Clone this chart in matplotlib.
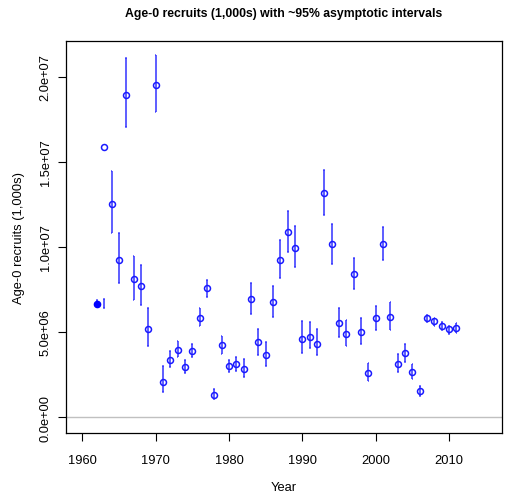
import matplotlib
matplotlib.use("Agg")
import matplotlib.pyplot as plt
import numpy as np

plt.rcParams['font.family'] = ['Liberation Sans', 'DejaVu Sans']

years = list(range(1962, 2012))
recruits = [6.62, 15.87, 12.5, 9.22, 18.95, 8.11, 7.7, 5.16, 19.52, 2.07,
            3.36, 3.95, 2.93, 3.87, 5.84, 7.56, 1.31, 4.24, 2.99, 3.09,
            2.85, 6.92, 4.38, 3.65, 6.74, 9.22, 10.88, 9.96, 4.61, 4.73,
            4.32, 13.15, 10.14, 5.53, 4.88, 8.4, 5.02, 2.58, 5.8, 10.14,
            5.9, 3.12, 3.77, 2.62, 1.51, 5.8, 5.63, 5.35, 5.16, 5.26]
upper = [6.85, 6.96, 14.46, 10.84, 21.08, 9.48, 8.95, 6.43, 21.26, 2.97,
         3.87, 4.44, 3.38, 4.3, 6.39, 8.03, 1.64, 4.75, 3.36, 3.5,
         3.42, 7.85, 5.2, 4.38, 7.72, 10.38, 12.13, 11.21, 5.67, 5.59,
         5.18, 14.5, 11.35, 6.43, 5.73, 9.32, 5.82, 3.15, 6.55, 11.18,
         6.74, 3.73, 4.32, 3.09, 1.8, 6.0, 5.84, 5.61, 5.37, 5.51]
lower = [6.45, 6.39, 10.84, 7.85, 17.06, 6.9, 6.61, 4.18, 17.94, 1.45,
         2.91, 3.5, 2.58, 3.5, 5.35, 7.05, 1.07, 3.73, 2.62, 2.72,
         2.38, 6.06, 3.67, 2.97, 5.86, 8.19, 9.71, 8.83, 3.75, 4.04,
         3.62, 11.86, 9.01, 4.71, 4.18, 7.54, 4.32, 2.09, 5.14, 9.2,
         5.14, 2.64, 3.24, 2.25, 1.25, 5.57, 5.37, 5.1, 4.9, 4.96]
virgin_year = 1962  # filled point

scale = 1e6
fig = plt.figure(figsize=(5.07, 5.02), dpi=100)
ax = fig.add_axes([66/507, 1 - 434/502, (502-66)/507, (434-42)/502])

yrs = np.array(years, dtype=float)
rec = np.array(recruits) * scale
up = np.array(upper) * scale
lo = np.array(lower) * scale

bar_col = (0.2, 0.2, 1.0, 0.85)
ax.axhline(0, color='#c0c0c0', lw=1, zorder=1)
ax.vlines(yrs, lo, up, colors=bar_col, lw=1.3, zorder=2)
cap = 0.12
ax.hlines(up, yrs - cap, yrs + cap, colors=bar_col, lw=1.1, zorder=2)
ax.hlines(lo, yrs - cap, yrs + cap, colors=bar_col, lw=1.1, zorder=2)

open_mask = yrs != virgin_year
ax.plot(yrs[open_mask], rec[open_mask], 'o', mfc='none', mec='#1a1aff',
        mew=1.1, ms=4.3, zorder=3)
ax.plot(yrs[~open_mask], rec[~open_mask], 'o', mfc='#0000ff', mec='#0000ff',
        ms=4.5, zorder=3)

ax.set_xlim(1957.8, 2017.2)
ax.set_ylim(-0.94e6, 22.1e6)

ax.set_xticks([1960, 1970, 1980, 1990, 2000, 2010])
yt = [0, 5e6, 1e7, 1.5e7, 2e7]
ax.set_yticks(yt)
ax.set_yticklabels(['0.0e+00', '5.0e+06', '1.0e+07', '1.5e+07', '2.0e+07'],
                   rotation=90, va='center')
ax.tick_params(axis='both', direction='out', length=5.8, width=0.8,
               labelsize=9.3, colors='black')
ax.tick_params(axis='x', pad=9)
ax.tick_params(axis='y', pad=4.5)
for s in ax.spines.values():
    s.set_linewidth(0.9)

ax.set_xlabel('Year', fontsize=9.3, labelpad=11)
ax.set_ylabel('Age-0 recruits (1,000s)', fontsize=9.3, labelpad=10.5)
fig.text((66+502)/2/507, 1 - 14/502, 'Age-0 recruits (1,000s) with ~95% asymptotic intervals',
         ha='center', va='center', fontsize=8.8, fontweight='bold')

fig.savefig('out.png', dpi=100, facecolor='white')
